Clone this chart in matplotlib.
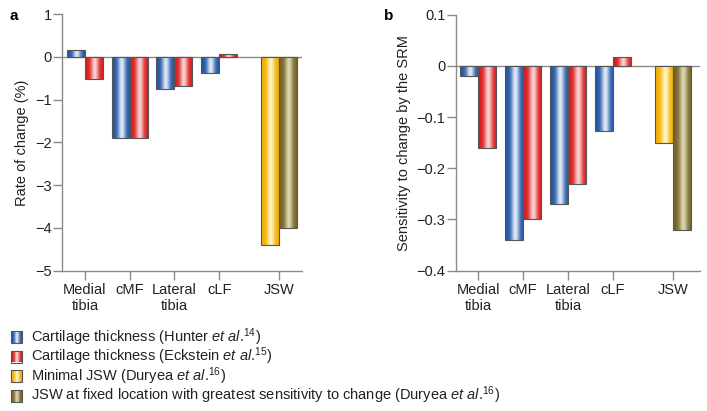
import matplotlib
matplotlib.use("Agg")
import matplotlib.pyplot as plt
import numpy as np
from matplotlib.colors import to_rgb

plt.rcParams['font.family'] = ['Liberation Sans', 'DejaVu Sans']
plt.rcParams['mathtext.fontset'] = 'custom'
plt.rcParams['mathtext.rm'] = 'Liberation Sans'
plt.rcParams['mathtext.it'] = 'Liberation Sans:italic'

# --- DATA ---
categories = ['Medial\ntibia', 'cMF', 'Lateral\ntibia', 'cLF', 'JSW']

hunter_rate = [0.15, -1.9, -0.75, -0.39]
eckstein_rate = [-0.51, -1.9, -0.68, 0.07]
jsw_min_rate = -4.4
jsw_fixed_rate = -4.0

hunter_srm = [-0.019, -0.34, -0.27, -0.127]
eckstein_srm = [-0.16, -0.30, -0.23, 0.018]
jsw_min_srm = -0.15
jsw_fixed_srm = -0.32

legend_labels = [
    r'Cartilage thickness (Hunter $\it{et\ al}$.$^{14}$)',
    r'Cartilage thickness (Eckstein $\it{et\ al}$.$^{15}$)',
    r'Minimal JSW (Duryea $\it{et\ al}$.$^{16}$)',
    r'JSW at fixed location with greatest sensitivity to change (Duryea $\it{et\ al}$.$^{16}$)',
]

# --- STYLE ---
# (dark edge colour, light centre colour)
colors = {
    'blue': ('#2456a6', '#dde8f7'),
    'red': ('#d81e1e', '#fbd0d0'),
    'yellow': ('#f2b000', '#fff2c0'),
    'olive': ('#75652a', '#ddd6b0'),
}
gray = '#8a8a8a'
group_x = np.array([0, 1, 2, 3, 4.33])
w = 0.4


def gradient(key, n=64):
    dark = np.array(to_rgb(colors[key][0]))
    light = np.array(to_rgb(colors[key][1]))
    t = np.linspace(0, 1, n)
    l = np.exp(-((t - 0.55) / 0.22) ** 2)
    img = dark[None, :] * (1 - l[:, None]) + light[None, :] * l[:, None]
    return img[None, :, :]


def shaded_bars(ax, x, vals, key):
    bars = ax.bar(x, vals, w, facecolor='none', edgecolor='#555555',
                  linewidth=0.8, zorder=3)
    for b in bars:
        x0, y0 = b.get_x(), b.get_y()
        im = ax.imshow(gradient(key), extent=[x0, x0 + b.get_width(), y0, y0 + b.get_height()],
                       aspect='auto', zorder=2, interpolation='bilinear')
        im.set_clip_path(b)
    return bars


def setup(ax, ylim, yticks, ylabel, fmt):
    ax.set_xlim(-0.51, 4.85)
    ax.set_ylim(*ylim)
    ax.set_yticks(yticks)
    ax.set_yticklabels([fmt(v) for v in yticks])
    ax.set_xticks(group_x)
    ax.set_xticklabels(categories)
    for s in ['top', 'right']:
        ax.spines[s].set_visible(False)
    for s in ['left', 'bottom']:
        ax.spines[s].set_color(gray)
        ax.spines[s].set_linewidth(1)
    ax.tick_params(axis='both', colors=gray, labelcolor='#222222', labelsize=10.5,
                   length=6.5, width=1)
    ax.tick_params(axis='y', pad=1)
    ax.tick_params(axis='x', pad=2)
    ax.axhline(0, color=gray, lw=1, zorder=1)
    ax.set_ylabel(ylabel, fontsize=10.5, color='#222222', labelpad=4)


fig = plt.figure(figsize=(7.07, 4.11), dpi=100)
fig.patch.set_facecolor('white')

# --- PANEL a ---
ax1 = fig.add_axes([62 / 707, 1 - 270.7 / 411, 240 / 707, 256.7 / 411])
shaded_bars(ax1, group_x[:4] - w / 2, hunter_rate, 'blue')
shaded_bars(ax1, group_x[:4] + w / 2, eckstein_rate, 'red')
shaded_bars(ax1, [group_x[4] - w / 2], [jsw_min_rate], 'yellow')
shaded_bars(ax1, [group_x[4] + w / 2], [jsw_fixed_rate], 'olive')
setup(ax1, (-5, 1), np.arange(-5, 2), 'Rate of change (%)',
      lambda v: '0' if v == 0 else f'{v:d}'.replace('-', '\u2212'))

# --- PANEL b ---
ax2 = fig.add_axes([456 / 707, 1 - 270.7 / 411, 244 / 707, 256 / 411])
shaded_bars(ax2, group_x[:4] - w / 2, hunter_srm, 'blue')
shaded_bars(ax2, group_x[:4] + w / 2, eckstein_srm, 'red')
shaded_bars(ax2, [group_x[4] - w / 2], [jsw_min_srm], 'yellow')
shaded_bars(ax2, [group_x[4] + w / 2], [jsw_fixed_srm], 'olive')
setup(ax2, (-0.4, 0.1), np.round(np.arange(-0.4, 0.15, 0.1), 1),
      'Sensitivity to change by the SRM',
      lambda v: '0' if abs(v) < 1e-9 else f'{v:.1f}'.replace('-', '\u2212'))
ax2.set_xlim(-0.49, 4.93)

fig.text(10 / 707, 1 - 16 / 411, 'a', fontsize=11, fontweight='bold', va='center')
fig.text(384 / 707, 1 - 16 / 411, 'b', fontsize=11, fontweight='bold', va='center')

# --- LEGEND ---
lax = fig.add_axes([0, 0, 1, 1], zorder=-1)
lax.set_xlim(0, 707)
lax.set_ylim(411, 0)
lax.axis('off')
for i, (key, lab) in enumerate(zip(['blue', 'red', 'yellow', 'olive'], legend_labels)):
    yc = 337 + 19.5 * i
    r = plt.Rectangle((11, yc - 6), 11, 12, facecolor='none', edgecolor='#555555', lw=0.8, zorder=3)
    lax.add_patch(r)
    im = lax.imshow(gradient(key), extent=[11, 22, yc + 6, yc - 6], aspect='auto',
                    zorder=2, interpolation='bilinear')
    im.set_clip_path(r)
    lax.text(31, yc, lab, fontsize=10.5, color='#222222', va='center', ha='left')
lax.set_xlim(0, 707)
lax.set_ylim(411, 0)

fig.savefig('out.png', dpi=100)
